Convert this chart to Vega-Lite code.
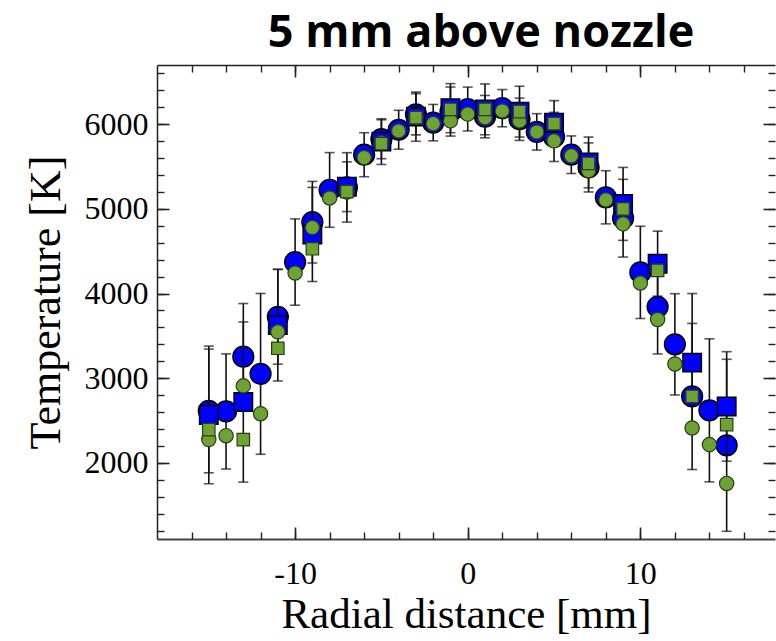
{
  "$schema": "https://vega.github.io/schema/vega-lite/v6.json",
  "width": 618,
  "height": 474,
  "autosize": {"type": "none"},
  "padding": {"left": 157, "top": 65, "right": 1, "bottom": 102},
  "background": "white",
  "title": {"text": "5 mm above nozzle", "font": "Open Sans", "fontSize": 45, "fontWeight": "bold", "color": "#000", "anchor": "middle", "dx": 15, "offset": 8},
  "datasets": {
    "bc": [
      {"r": -15, "T": 2613, "e": 731}, {"r": -14, "T": 2607, "e": 680}, {"r": -13, "T": 3254, "e": 628},
      {"r": -12, "T": 3051, "e": 950}, {"r": -11, "T": 3725, "e": 560}, {"r": -10, "T": 4372, "e": 510},
      {"r": -9, "T": 4843, "e": 482}, {"r": -8, "T": 5224, "e": 441}, {"r": -7, "T": 5254, "e": 410},
      {"r": -6, "T": 5640, "e": 260}, {"r": -5, "T": 5823, "e": 230}, {"r": -4, "T": 5935, "e": 230},
      {"r": -3, "T": 6117, "e": 243}, {"r": -2, "T": 6019, "e": 215}, {"r": -1, "T": 6150, "e": 290},
      {"r": 0, "T": 6180, "e": 259}, {"r": 1, "T": 6090, "e": 250}, {"r": 2, "T": 6190, "e": 220},
      {"r": 3, "T": 6059, "e": 250}, {"r": 4, "T": 5910, "e": 215}, {"r": 5, "T": 5850, "e": 290},
      {"r": 6, "T": 5640, "e": 222}, {"r": 7, "T": 5490, "e": 290}, {"r": 8, "T": 5137, "e": 314},
      {"r": 9, "T": 4890, "e": 459}, {"r": 10, "T": 4250, "e": 545}, {"r": 11, "T": 3843, "e": 557},
      {"r": 12, "T": 3400, "e": 598}, {"r": 13, "T": 2784, "e": 863}, {"r": 14, "T": 2620, "e": 845},
      {"r": 15, "T": 2207, "e": 1016}
    ],
    "bs": [
      {"r": -15, "T": 2566, "e": 813}, {"r": -13, "T": 2718, "e": 946}, {"r": -11, "T": 3627, "e": 660},
      {"r": -9, "T": 4698, "e": 556}, {"r": -7, "T": 5262, "e": 294}, {"r": -5, "T": 5795, "e": 270},
      {"r": -3, "T": 6090, "e": 290}, {"r": -1, "T": 6190, "e": 290}, {"r": 1, "T": 6176, "e": 300},
      {"r": 3, "T": 6149, "e": 300}, {"r": 5, "T": 6019, "e": 260}, {"r": 7, "T": 5549, "e": 300},
      {"r": 9, "T": 5059, "e": 431}, {"r": 11, "T": 4353, "e": 384}, {"r": 13, "T": 3184, "e": 816},
      {"r": 15, "T": 2666, "e": 647}
    ],
    "gc": [
      {"r": -15, "T": 2275}, {"r": -14, "T": 2321}, {"r": -13, "T": 2909}, {"r": -12, "T": 2580},
      {"r": -11, "T": 3548}, {"r": -10, "T": 4243}, {"r": -9, "T": 4780}, {"r": -8, "T": 5129},
      {"r": -7, "T": 5200}, {"r": -6, "T": 5607}, {"r": -5, "T": 5780}, {"r": -4, "T": 5921},
      {"r": -3, "T": 6080}, {"r": -2, "T": 6007}, {"r": -1, "T": 6040}, {"r": 0, "T": 6120},
      {"r": 1, "T": 6078}, {"r": 2, "T": 6157}, {"r": 3, "T": 6039}, {"r": 4, "T": 5909},
      {"r": 5, "T": 5804}, {"r": 6, "T": 5627}, {"r": 7, "T": 5451}, {"r": 8, "T": 5106},
      {"r": 9, "T": 4823}, {"r": 10, "T": 4125}, {"r": 11, "T": 3694}, {"r": 12, "T": 3168},
      {"r": 13, "T": 2412}, {"r": 14, "T": 2215}, {"r": 15, "T": 1757}
    ],
    "gs": [
      {"r": -15, "T": 2392}, {"r": -13, "T": 2274}, {"r": -11, "T": 3353}, {"r": -9, "T": 4529},
      {"r": -7, "T": 5204}, {"r": -5, "T": 5772}, {"r": -3, "T": 6078}, {"r": -1, "T": 6176},
      {"r": 1, "T": 6176}, {"r": 3, "T": 6149}, {"r": 5, "T": 6007}, {"r": 7, "T": 5537},
      {"r": 9, "T": 5000}, {"r": 11, "T": 4274}, {"r": 13, "T": 2784}, {"r": 15, "T": 2451}
    ]
  },
  "resolve": {"scale": {"x": "shared", "y": "shared"}, "axis": {"x": "independent", "y": "independent"}},
  "layer": [
    {
      "data": {"name": "bc"},
      "mark": {"type": "errorbar", "color": "#111", "thickness": 1.6, "ticks": {"size": 10, "thickness": 1.6, "color": "#111"}},
      "encoding": {
        "x": {"field": "r", "type": "quantitative", "scale": {"domain": [-18, 17.8], "nice": false, "zero": false}, "axis": null},
        "y": {"field": "T", "type": "quantitative", "scale": {"domain": [1100, 6700], "nice": false, "zero": false}, "axis": null},
        "yError": {"field": "e"}
      }
    },
    {
      "data": {"name": "bc"},
      "mark": {"type": "point", "shape": "circle", "filled": true, "opacity": 1, "size": 430, "color": "#0000ff", "stroke": "#000", "strokeWidth": 1.5},
      "encoding": {
        "x": {"field": "r", "type": "quantitative", "scale": {"domain": [-18, 17.8], "nice": false, "zero": false},
          "axis": {"orient": "bottom", "values": [-10, 0, 10], "tickSize": -12, "tickWidth": 1.6, "labelFontSize": 32, "labelPadding": 31, "labelExpr": "'' + datum.value", "title": "Radial distance [mm]", "titleFontSize": 43, "titlePadding": 4, "domain": true, "domainWidth": 2, "domainColor": "#444"}},
        "y": {"field": "T", "type": "quantitative", "scale": {"domain": [1100, 6700], "nice": false, "zero": false},
          "axis": {"orient": "left", "values": [2000, 3000, 4000, 5000, 6000], "tickSize": -12, "tickWidth": 1.6, "labelFontSize": 32, "labelPadding": 21, "labelExpr": "'' + datum.value", "title": "Temperature [K]", "titleFontSize": 44, "titlePadding": 16, "domain": true, "domainWidth": 1.5, "domainColor": "#222"}}
      }
    },
    {
      "data": {"name": "bs"},
      "mark": {"type": "errorbar", "color": "#111", "thickness": 1.6, "ticks": {"size": 10, "thickness": 1.6, "color": "#111"}},
      "encoding": {
        "x": {"field": "r", "type": "quantitative", "scale": {"domain": [-18, 17.8], "nice": false, "zero": false}, "axis": null},
        "y": {"field": "T", "type": "quantitative", "scale": {"domain": [1100, 6700], "nice": false, "zero": false}, "axis": null},
        "yError": {"field": "e"}
      }
    },
    {
      "data": {"name": "bs"},
      "mark": {"type": "point", "shape": "square", "filled": true, "opacity": 1, "size": 340, "color": "#0000ff", "stroke": "#000", "strokeWidth": 1.5},
      "encoding": {
        "x": {"field": "r", "type": "quantitative", "scale": {"domain": [-18, 17.8], "nice": false, "zero": false},
          "axis": {"orient": "bottom", "values": [-16, -14, -12, -10, -8, -6, -4, -2, 0, 2, 4, 6, 8, 10, 12, 14, 16], "tickSize": -7, "tickWidth": 1.4, "labels": false, "title": null, "domain": false}},
        "y": {"field": "T", "type": "quantitative", "scale": {"domain": [1100, 6700], "nice": false, "zero": false},
          "axis": {"orient": "left", "values": [1200, 1400, 1600, 1800, 2000, 2200, 2400, 2600, 2800, 3000, 3200, 3400, 3600, 3800, 4000, 4200, 4400, 4600, 4800, 5000, 5200, 5400, 5600, 5800, 6000, 6200, 6400, 6600], "tickSize": -7, "tickWidth": 1.4, "labels": false, "title": null, "domain": false}}
      }
    },
    {
      "data": {"name": "gc"},
      "mark": {"type": "point", "shape": "circle", "filled": true, "opacity": 1, "size": 205, "color": "#6ca332", "stroke": "#2c3a1c", "strokeWidth": 1.2},
      "encoding": {
        "x": {"field": "r", "type": "quantitative", "scale": {"domain": [-18, 17.8], "nice": false, "zero": false},
          "axis": {"orient": "top", "values": [-10, 0, 10], "tickSize": -12, "tickWidth": 1.6, "labels": false, "title": null, "domain": true, "domainWidth": 1.5, "domainColor": "#222"}},
        "y": {"field": "T", "type": "quantitative", "scale": {"domain": [1100, 6700], "nice": false, "zero": false},
          "axis": {"orient": "right", "values": [2000, 3000, 4000, 5000, 6000], "tickSize": -12, "tickWidth": 1.6, "labels": false, "title": null, "domain": false}}
      }
    },
    {
      "data": {"name": "gs"},
      "mark": {"type": "point", "shape": "square", "filled": true, "opacity": 1, "size": 155, "color": "#6ca332", "stroke": "#2c3a1c", "strokeWidth": 1.2},
      "encoding": {
        "x": {"field": "r", "type": "quantitative", "scale": {"domain": [-18, 17.8], "nice": false, "zero": false},
          "axis": {"orient": "top", "values": [-16, -14, -12, -10, -8, -6, -4, -2, 0, 2, 4, 6, 8, 10, 12, 14, 16], "tickSize": -7, "tickWidth": 1.4, "labels": false, "title": null, "domain": false}},
        "y": {"field": "T", "type": "quantitative", "scale": {"domain": [1100, 6700], "nice": false, "zero": false},
          "axis": {"orient": "right", "values": [1200, 1400, 1600, 1800, 2000, 2200, 2400, 2600, 2800, 3000, 3200, 3400, 3600, 3800, 4000, 4200, 4400, 4600, 4800, 5000, 5200, 5400, 5600, 5800, 6000, 6200, 6400, 6600], "tickSize": -7, "tickWidth": 1.4, "labels": false, "title": null, "domain": false}}
      }
    }
  ],
  "config": {
    "view": {"stroke": null},
    "axis": {"grid": false, "labelFont": "Liberation Serif", "titleFont": "Liberation Serif", "labelColor": "#000", "titleColor": "#000", "titleFontWeight": "normal", "tickColor": "#222", "labelFlush": false, "labelOverlap": false}
  }
}
